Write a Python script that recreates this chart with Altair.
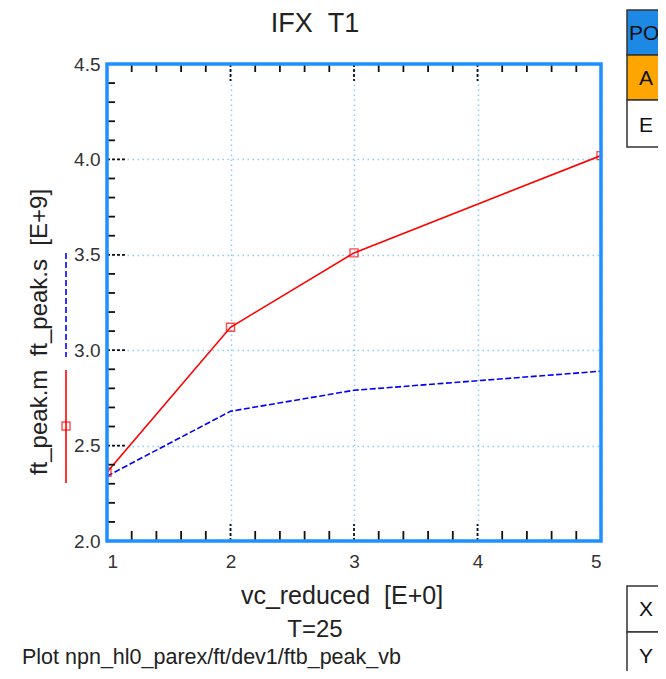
import altair as alt
import pandas as pd

# ---- data ----
vc_reduced = [1, 2, 3, 5]
ft_peak_m = [2.36, 3.12, 3.51, 4.02]
ft_peak_s = [2.34, 2.68, 2.79, 2.89]

x_tick_labels = [1, 2, 3, 4, 5]
y_tick_labels = [2.0, 2.5, 3.0, 3.5, 4.0, 4.5]
x_minor = [1.2, 1.4, 1.6, 1.8, 2.2, 2.4, 2.6, 2.8, 3.2, 3.4, 3.6, 3.8, 4.2, 4.4, 4.6, 4.8]
x_major = [2, 3, 4]
y_minor = [2.1, 2.2, 2.3, 2.4, 2.6, 2.7, 2.8, 2.9, 3.1, 3.2, 3.3, 3.4,
           3.6, 3.7, 3.8, 3.9, 4.1, 4.2, 4.3, 4.4]
y_major = [2.5, 3.0, 3.5, 4.0]

title_text = "IFX\u00a0\u00a0T1"
x_title = "vc_reduced\u00a0\u00a0[E+0]"
y_title = "ft_peak.m\u00a0\u00a0ft_peak.s\u00a0\u00a0[E+9]"
sub_text = "T=25"
footer = "Plot npn_hl0_parex/ft/dev1/ftb_peak_vb"
cells_top = ["PO", "A", "E"]
cells_bottom = ["X", "Y"]

W, H = 494, 477
FONT = "Liberation Sans"
FRAME = "#1e90ff"

df = pd.DataFrame({"x": vc_reduced, "m": ft_peak_m, "s": ft_peak_s})
one = alt.Data(values=[{}])

X = alt.X("x:Q", scale=alt.Scale(domain=[1, 5], nice=False, zero=False),
          axis=alt.Axis(values=x_tick_labels, format="d", title=None, domain=False,
                        ticks=False, labelFontSize=19, labelColor="#333", labelFont=FONT,
                        labelPadding=11, grid=True, gridColor="#87cefa",
                        gridDash=[1.5, 3.5], gridWidth=1.5))
Y = alt.Y("y:Q", scale=alt.Scale(domain=[2.0, 4.5], nice=False, zero=False),
          axis=alt.Axis(values=y_tick_labels, format=".1f", title=None, domain=False,
                        ticks=False, labelFontSize=19, labelColor="#333", labelFont=FONT,
                        labelPadding=7, grid=True, gridColor="#87cefa",
                        gridDash=[1.5, 3.5], gridWidth=1.5))

base = alt.Chart(df)
blue_line = base.transform_calculate(y="datum.s").mark_line(
    color="#0000ff", strokeWidth=1.6, strokeDash=[6, 2.5], clip=True
).encode(x=X, y=Y)
red_line = base.transform_calculate(y="datum.m").mark_line(
    color="#ff0000", strokeWidth=1.6, clip=True
).encode(x=X, y=Y)
red_pts = base.transform_calculate(y="datum.m").mark_point(
    shape="square", filled=False, color="#ff0000", size=64, strokeWidth=1.4, clip=True
).encode(x=X, y=Y)

xmin_df = pd.DataFrame({"x": x_minor})
xmaj_df = pd.DataFrame({"x": x_major})
ymin_df = pd.DataFrame({"y": y_minor})
ymaj_df = pd.DataFrame({"y": y_major})

tick_kw = dict(color="#111", strokeWidth=1.8)
bx_min = alt.Chart(xmin_df).mark_rule(**tick_kw).encode(x=X, y=alt.value(H), y2=alt.value(H - 10))
tx_min = alt.Chart(xmin_df).mark_rule(**tick_kw).encode(x=X, y=alt.value(0), y2=alt.value(8))
bx_maj = alt.Chart(xmaj_df).mark_rule(strokeDash=[3, 2], **tick_kw).encode(x=X, y=alt.value(H), y2=alt.value(H - 17))
tx_maj = alt.Chart(xmaj_df).mark_rule(strokeDash=[3, 2], **tick_kw).encode(x=X, y=alt.value(0), y2=alt.value(17))
ly_min = alt.Chart(ymin_df).mark_rule(**tick_kw).encode(y=Y, x=alt.value(0), x2=alt.value(8))
ly_maj = alt.Chart(ymaj_df).mark_rule(strokeDash=[3, 2], **tick_kw).encode(y=Y, x=alt.value(0), x2=alt.value(20))

frame = alt.Chart(one).mark_rect(filled=False, stroke=FRAME, strokeWidth=3.5).encode(
    x=alt.value(0), x2=alt.value(W), y=alt.value(0), y2=alt.value(H))

def txt(text, x, y, size, align="center", angle=0, baseline="alphabetic", color="#222"):
    return alt.Chart(one).mark_text(
        text=text, fontSize=size, font=FONT, align=align, baseline=baseline,
        angle=angle, color=color
    ).encode(x=alt.value(x), y=alt.value(y))

title = txt(title_text, 208, -32, 27)
xt = txt(x_title, 235, 540, 25)
st = txt(sub_text, 208, 573, 24)
ft = txt(footer, -85, 600, 21.5, align="left")
yt = txt(y_title, -67, 268, 24, angle=270, baseline="middle")

# legend glyphs in the y-title area
leg_blue = alt.Chart(one).mark_rule(color="#0000ff", strokeWidth=1.6, strokeDash=[6, 3]).encode(
    x=alt.value(-41), y=alt.value(189), y2=alt.value(293))
leg_red = alt.Chart(one).mark_rule(color="#ff0000", strokeWidth=1.6).encode(
    x=alt.value(-41), y=alt.value(306), y2=alt.value(419))
leg_pt = alt.Chart(one).mark_point(shape="square", filled=False, color="#ff0000", size=64, strokeWidth=1.4).encode(
    x=alt.value(-41), y=alt.value(362))

# side table cells
def cell(y0, y1, fill):
    return alt.Chart(one).mark_rect(fill=fill, stroke="#333", strokeWidth=1.5).encode(
        x=alt.value(520), x2=alt.value(575), y=alt.value(y0), y2=alt.value(y1))

cells = [
    cell(-54, -9, "#1e88e5"), cell(-9, 36, "#ffa500"), cell(36, 83, "#ffffff"),
    cell(522, 568, "#ffffff"), cell(568, 614, "#ffffff"),
]
cell_txt = [
    txt(cells_top[0], 522, -24, 21, align="left", color="#111"),
    txt(cells_top[1], 539, 21, 21, color="#111"),
    txt(cells_top[2], 539, 68, 21, color="#111"),
    txt(cells_bottom[0], 539, 552, 21, color="#111"),
    txt(cells_bottom[1], 539, 599, 21, color="#111"),
]

chart = alt.layer(
    blue_line, red_line, red_pts,
    bx_min, tx_min, bx_maj, tx_maj, ly_min, ly_maj,
    frame, title, xt, st, ft, yt, leg_blue, leg_red, leg_pt,
    *cells, *cell_txt
).properties(
    width=W, height=H,
    autosize=alt.AutoSizeParams(type="none"),
    padding={"left": 99, "top": 56, "right": 57, "bottom": 130},
    background="white",
).configure_view(stroke=None)

chart.save("out.html", embed_options={"renderer": "svg", "actions": False})
